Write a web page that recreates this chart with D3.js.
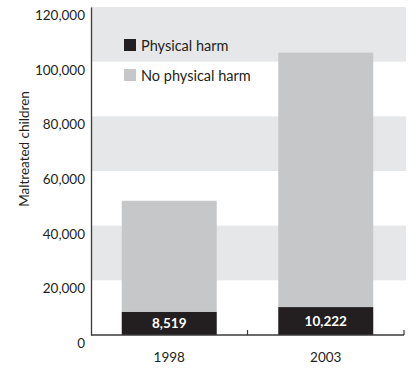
<!DOCTYPE html>
<html>
<head>
<meta charset="utf-8">
<script src="https://cdn.jsdelivr.net/npm/d3@7"></script>
<style>
  html, body { margin: 0; padding: 0; background: #fff; }
  svg { display: block; font-family: Lato, "Open Sans", sans-serif; }
</style>
</head>
<body>
<svg id="chart" width="410" height="370"></svg>
<script>
// Maltreated children by year, split by physical harm
const years = ["1998", "2003"];
const physicalHarm = [8519, 10222];
const totalMaltreated = [49100, 103300];
const noPhysicalHarm = totalMaltreated.map((t, i) => t - physicalHarm[i]);
const yTicks = [0, 20000, 40000, 60000, 80000, 100000, 120000];
const legendLabels = ["Physical harm", "No physical harm"];

const colors = { harm: "#231f20", noHarm: "#c6c7c8", band: "#e6e7e8", axis: "#3a3a3a", text: "#231f20" };

const svg = d3.select("#chart");
const margin = { left: 91, right: 6, top: 7, bottom: 35 };
const W = 410, H = 370;

const x = d3.scaleBand()
  .domain(years)
  .range([margin.left, W - margin.right])
  .paddingInner(0.393)
  .paddingOuter(0.1965);

const y = d3.scaleLinear()
  .domain([0, 120000])
  .range([H - margin.bottom, margin.top]);

// alternating background bands
const bandPairs = d3.range(0, yTicks.length - 1).filter(i => i % 2 === 1)
  .map(i => [yTicks[i], yTicks[i + 1]]);
svg.append("g").selectAll("rect").data(bandPairs).join("rect")
  .attr("x", margin.left)
  .attr("width", W - margin.right - margin.left + 2)
  .attr("y", d => y(d[1]))
  .attr("height", d => y(d[0]) - y(d[1]))
  .attr("fill", colors.band);

// stacked bars
const stackData = years.map((yr, i) => ({ year: yr, harm: physicalHarm[i], noHarm: noPhysicalHarm[i] }));
const stack = d3.stack().keys(["harm", "noHarm"])(stackData);
const fills = { harm: colors.harm, noHarm: colors.noHarm };

svg.append("g").selectAll("g").data(stack).join("g")
  .attr("fill", s => fills[s.key])
  .selectAll("rect").data(s => s).join("rect")
  .attr("x", d => x(d.data.year))
  .attr("width", x.bandwidth())
  .attr("y", d => y(d[1]))
  .attr("height", d => y(d[0]) - y(d[1]));

// value labels inside the physical harm segments
svg.append("g").selectAll("text").data(stackData).join("text")
  .attr("x", d => x(d.year) + x.bandwidth() / 2)
  .attr("y", d => (y(0) + y(d.harm)) / 2 + 4.5)
  .attr("text-anchor", "middle")
  .attr("fill", "#fff")
  .attr("font-size", 13.5)
  .attr("font-weight", "bold")
  .text(d => d3.format(",")(d.harm));

// y axis
const yAxis = svg.append("g")
  .attr("transform", `translate(${margin.left},0)`)
  .call(d3.axisLeft(y).tickValues(yTicks).tickFormat(d3.format(",")).tickSize(0).tickPadding(6));
yAxis.select(".domain").attr("stroke", colors.axis).attr("stroke-width", 1.3);
yAxis.selectAll("text")
  .attr("font-size", 13.5)
  .attr("fill", colors.text)
  .attr("dy", "0.92em")
  .attr("font-family", "Lato, 'Open Sans', sans-serif");

// x axis with ticks at category boundaries
const xBase = y(0);
const xAxisG = svg.append("g");
xAxisG.append("line")
  .attr("x1", margin.left).attr("x2", W - margin.right)
  .attr("y1", xBase).attr("y2", xBase)
  .attr("stroke", colors.axis).attr("stroke-width", 1.3);
const boundaries = years.map(yr => x(yr) + x.bandwidth() + x.step() * x.paddingInner() / 2);
boundaries[boundaries.length - 1] = W - margin.right;
xAxisG.selectAll("line.tick").data(boundaries).join("line")
  .attr("class", "tick")
  .attr("x1", d => d).attr("x2", d => d)
  .attr("y1", xBase).attr("y2", xBase - 5)
  .attr("stroke", colors.axis).attr("stroke-width", 1.2);
xAxisG.selectAll("text").data(years).join("text")
  .attr("x", d => x(d) + x.bandwidth() / 2)
  .attr("y", xBase + 27)
  .attr("text-anchor", "middle")
  .attr("font-size", 13.5)
  .attr("fill", colors.text)
  .text(d => d);

// y axis title
svg.append("text")
  .attr("transform", `translate(29,${(margin.top + xBase) / 2 - 22}) rotate(-90)`)
  .attr("text-anchor", "middle")
  .attr("font-size", 13.5)
  .attr("fill", colors.text)
  .text("Maltreated children");

// legend
const legend = svg.append("g").attr("transform", "translate(124,39)");
const legendColors = [colors.harm, colors.noHarm];
legendLabels.forEach((lbl, i) => {
  const g = legend.append("g").attr("transform", `translate(0,${i * 30})`);
  g.append("rect").attr("width", 12).attr("height", 12).attr("fill", legendColors[i]);
  g.append("text").attr("x", 17).attr("y", 11.5).attr("font-size", 14.5)
    .attr("fill", colors.text).text(lbl);
});
</script>
</body>
</html>
